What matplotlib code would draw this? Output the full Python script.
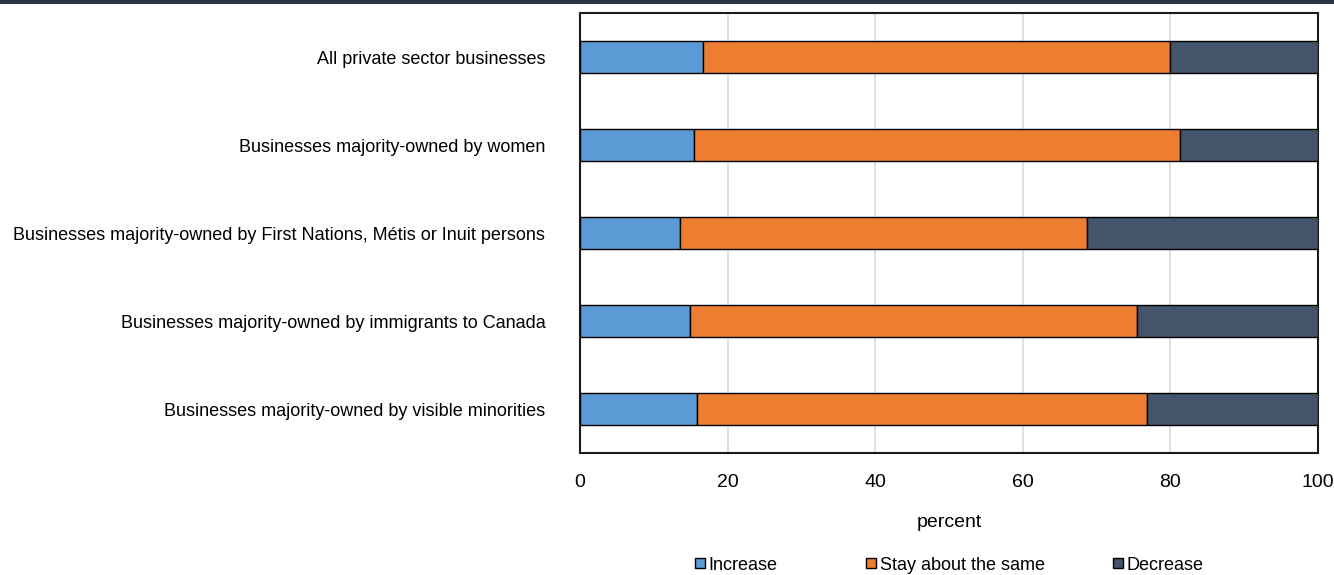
import matplotlib
matplotlib.use("Agg")
import matplotlib.pyplot as plt
from matplotlib.lines import Line2D
from matplotlib.patches import Rectangle
import numpy as np

# -----------------------------
# data
# -----------------------------
categories = [
    "All private sector businesses",
    "Businesses majority-owned by women",
    "Businesses majority-owned by First Nations, Métis or Inuit persons",
    "Businesses majority-owned by immigrants to Canada",
    "Businesses majority-owned by visible minorities",
]
series_names = ["Increase", "Stay about the same", "Decrease"]
increase = [16.7, 15.4, 13.6, 14.9, 15.8]
stay_same = [63.3, 65.9, 55.1, 60.6, 61.0]
decrease = [20.0, 18.7, 31.3, 24.5, 23.2]
x_ticks = [0, 20, 40, 60, 80, 100]

colors = ["#5B9BD5", "#ED7D31", "#44546A"]

plt.rcParams["font.family"] = ["Liberation Sans", "DejaVu Sans"]

fig = plt.figure(figsize=(13.34, 5.75), dpi=100)
ax = fig.add_axes([580 / 1334, 1 - 453 / 575, (1318 - 580) / 1334, 440 / 575])

# dark band along the top
fig.add_artist(Rectangle((0, 1 - 4 / 575), 1, 4 / 575, transform=fig.transFigure,
                         facecolor="#2B3644", edgecolor="none"))

y = np.arange(len(categories))
left = np.zeros(len(categories))
for vals, name, c in zip([increase, stay_same, decrease], series_names, colors):
    ax.barh(y, vals, left=left, height=0.36, color=c, edgecolor="black",
            linewidth=1.0, label=name, zorder=3)
    left += np.array(vals)

ax.set_xlim(0, 100)
ax.set_ylim(len(categories) - 0.5, -0.5)
ax.set_xticks(x_ticks)
ax.set_yticks(y)
ax.set_yticklabels(categories, fontsize=13)
ax.tick_params(axis="x", length=0, pad=15, labelsize=14)
ax.tick_params(axis="y", length=0, pad=25)
ax.grid(axis="x", color="#D9D9D9", linewidth=1.2, zorder=0)
ax.set_axisbelow(True)
for s in ax.spines.values():
    s.set_color("#1A1A1A")
    s.set_linewidth(1.5)

ax.set_xlabel("percent", fontsize=14, labelpad=17)

# legend entries placed one by one
legend_x = [695, 866, 1113]
for name, c, lx in zip(series_names, colors, legend_x):
    h = Line2D([], [], marker="s", linestyle="none", markersize=7.5,
               markerfacecolor=c, markeredgecolor="black", markeredgewidth=1.0)
    fig.legend(handles=[h], labels=[name], loc="center left",
               bbox_to_anchor=(lx / 1334, 1 - 565 / 575), frameon=False,
               fontsize=13, handlelength=0.6, handletextpad=0.15,
               borderpad=0, borderaxespad=0)

fig.savefig("out.png", dpi=100)
